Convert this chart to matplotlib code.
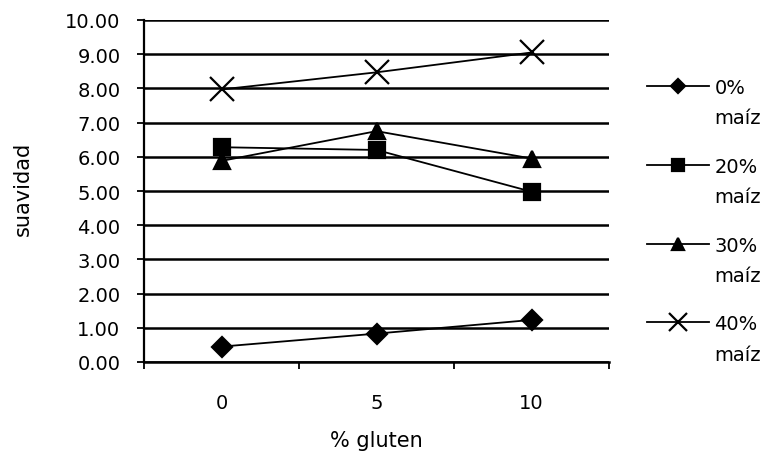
import numpy as np
from matplotlib import pyplot as plt
from matplotlib.legend_handler import HandlerLine2D

plt.rcParams['font.family'] = ['DejaVu Sans']

gluten = ['0', '5', '10']
maiz_0 = [0.45, 0.83, 1.23]
maiz_20 = [6.28, 6.2, 4.98]
maiz_30 = [5.88, 6.75, 5.95]
maiz_40 = [7.97, 8.47, 9.05]

series = [
    (maiz_0, 'D', '0%\nmaíz', 10),
    (maiz_20, 's', '20%\nmaíz', 12),
    (maiz_30, '^', '30%\nmaíz', 12),
    (maiz_40, 'x', '40%\nmaíz', 17),
]


class HandlerUp(HandlerLine2D):
    # put the legend symbol next to the first text line
    def create_artists(self, legend, orig_handle, xdescent, ydescent,
                       width, height, fontsize, trans):
        return super().create_artists(legend, orig_handle, xdescent,
                                      ydescent - 25, width, height,
                                      fontsize, trans)


fig = plt.figure(figsize=(7.79, 4.56), dpi=100)
ax = fig.add_axes([144 / 779, 93 / 456, 465 / 779, 342 / 456])

x = np.arange(len(gluten))
lines = []
for vals, mk, lab, ms in series:
    ln, = ax.plot(x, vals, color='black', lw=1.3, marker=mk, markersize=ms,
                  markeredgewidth=1.6, label=lab)
    lines.append(ln)

ax.set_xlim(-0.5, 2.5)
ax.set_ylim(0, 10)
ax.set_yticks(np.arange(0, 11, 1))
ax.set_yticklabels([f'{v:.2f}' for v in range(11)], fontsize=14)
ax.set_xticks(x)
ax.set_xticklabels(gluten, fontsize=14)
ax.tick_params(axis='x', length=0, pad=22)
ax.set_xticks([-0.5, 0.5, 1.5, 2.5], minor=True)
ax.tick_params(axis='x', which='minor', length=5, width=1.3, direction='out')
ax.tick_params(axis='y', length=5, width=1.3, direction='out', pad=12)
ax.grid(axis='y', color='black', lw=1.8)
ax.set_axisbelow(True)
for s in ['top', 'right']:
    ax.spines[s].set_visible(False)
ax.spines['left'].set_linewidth(1.6)
ax.spines['bottom'].set_linewidth(1.8)

ax.set_xlabel('% gluten', fontsize=15, va='top')
ax.xaxis.set_label_coords(0.5, -0.2)
ax.set_ylabel('suavidad', fontsize=15)
ax.yaxis.set_label_coords(-0.24, 0.51)

leg = fig.legend(handles=lines, loc='upper left',
                 bbox_to_anchor=(647 / 779, 1 - 79 / 456),
                 frameon=False, fontsize=14, handlelength=3.2,
                 labelspacing=1.52, handletextpad=0.26, borderpad=0,
                 borderaxespad=0, markerscale=0.75,
                 handler_map={ln: HandlerUp() for ln in lines})
for t in leg.get_texts():
    t.set_linespacing(1.75)

fig.savefig('out.png', dpi=100)
